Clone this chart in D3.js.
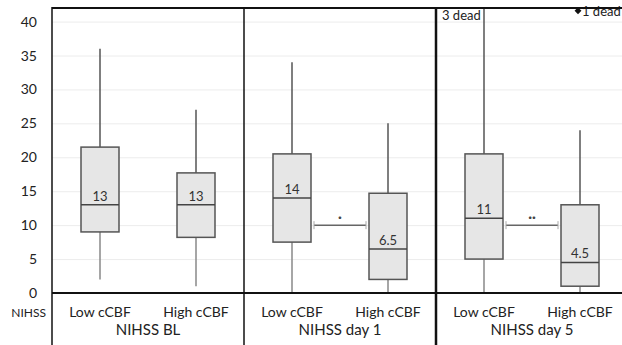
<!DOCTYPE html>
<html>
<head>
<meta charset="utf-8">
<script src="https://cdn.jsdelivr.net/npm/d3@7"></script>
<style>
  body { margin: 0; background: #fff; }
  svg { display: block; }
</style>
</head>
<body>
<div id="chart"></div>
<script>
// values
const groups = ['NIHSS BL', 'NIHSS day 1', 'NIHSS day 5'];
const categories = ['Low cCBF', 'High cCBF'];
const whiskerHigh = [36, 27, 34, 25, 43, 24];
const q3 = [21.5, 17.7, 20.5, 14.7, 20.5, 13];
const medians = [13, 13, 14, 6.5, 11, 4.5];
const q1 = [9, 8.2, 7.5, 2, 5, 1];
const whiskerLow = [2, 1, 0, 0, 0, 0];
const medianLabels = ['13', '13', '14', '6.5', '11', '4.5'];
const yTicks = [0, 5, 10, 15, 20, 25, 30, 35, 40];
const sigBars = [
  {group: 'NIHSS day 1', value: 10, label: '·'},
  {group: 'NIHSS day 5', value: 10, label: '··'}
];
const outliers = [{group: 'NIHSS day 5', cat: 'High cCBF', value: 41.6, label: '1 dead'}];
const notes = [{group: 'NIHSS day 5', cat: 'Low cCBF', label: '3 dead'}];

const width = 622, height = 345;
const plotLeft = 52, plotTop = 8, axisY = 293;

const boxes = [];
groups.forEach((g, i) => categories.forEach((c, j) => {
  const k = i * 2 + j;
  boxes.push({group: g, cat: c, hi: whiskerHigh[k], q3: q3[k], med: medians[k],
    q1: q1[k], lo: whiskerLow[k], label: medianLabels[k]});
}));

const svg = d3.select('#chart').append('svg')
  .attr('width', width).attr('height', height)
  .attr('font-family', 'Lato, "Open Sans", sans-serif')
  .attr('fill', '#222');

const x = d3.scaleBand().domain(groups).range([plotLeft, 628]);
const xi = d3.scalePoint().domain(categories).range([0, x.bandwidth()]).padding(0.5);
const y = d3.scaleLinear().domain([0, 42]).range([axisY, plotTop]);
const boxW = 38;
const cx = d => x(d.group) + xi(d.cat);

// grid
svg.append('g').selectAll('line')
  .data(yTicks.filter(t => t > 0))
  .join('line')
    .attr('x1', plotLeft).attr('x2', width)
    .attr('y1', d => y(d) + 0.5).attr('y2', d => y(d) + 0.5)
    .attr('stroke', '#ececec');

// y tick labels
svg.append('g').selectAll('text')
  .data(yTicks)
  .join('text')
    .attr('x', 37).attr('y', d => y(d))
    .attr('dy', '0.36em')
    .attr('text-anchor', 'end')
    .attr('font-size', 14)
    .text(d => d);

// whiskers
const bx = svg.append('g');
bx.selectAll('line.wu')
  .data(boxes)
  .join('line')
    .attr('class', 'wu')
    .attr('x1', cx).attr('x2', cx)
    .attr('y1', d => y(d.q3)).attr('y2', d => Math.max(plotTop, y(d.hi)))
    .attr('stroke', '#555').attr('stroke-width', 1.5);
bx.selectAll('line.wl')
  .data(boxes)
  .join('line')
    .attr('class', 'wl')
    .attr('x1', cx).attr('x2', cx)
    .attr('y1', d => y(d.q1)).attr('y2', d => y(d.lo))
    .attr('stroke', '#888').attr('stroke-width', 1.5);

// boxes
bx.selectAll('rect')
  .data(boxes)
  .join('rect')
    .attr('x', d => cx(d) - boxW / 2)
    .attr('y', d => y(d.q3))
    .attr('width', boxW)
    .attr('height', d => y(d.q1) - y(d.q3))
    .attr('fill', '#e6e6e6')
    .attr('stroke', '#555').attr('stroke-width', 1.5);
bx.selectAll('line.med')
  .data(boxes)
  .join('line')
    .attr('class', 'med')
    .attr('x1', d => cx(d) - boxW / 2).attr('x2', d => cx(d) + boxW / 2)
    .attr('y1', d => y(d.med)).attr('y2', d => y(d.med))
    .attr('stroke', '#444').attr('stroke-width', 1.5);
bx.selectAll('text')
  .data(boxes)
  .join('text')
    .attr('x', cx).attr('y', d => y(d.med) - 4)
    .attr('text-anchor', 'middle')
    .attr('font-size', 13)
    .attr('fill', '#333')
    .text(d => d.label);

// significance bars
const sg = svg.append('g').selectAll('g')
  .data(sigBars)
  .join('g');
const sx1 = d => x(d.group) + xi(categories[0]) + boxW / 2 + 3;
const sx2 = d => x(d.group) + xi(categories[1]) - boxW / 2 - 3;
sg.append('line')
  .attr('x1', sx1).attr('x2', sx2)
  .attr('y1', d => y(d.value)).attr('y2', d => y(d.value))
  .attr('stroke', '#666').attr('stroke-width', 1.5);
sg.append('line')
  .attr('x1', sx1).attr('x2', sx1)
  .attr('y1', d => y(d.value) - 4).attr('y2', d => y(d.value) + 4)
  .attr('stroke', '#aaa');
sg.append('line')
  .attr('x1', sx2).attr('x2', sx2)
  .attr('y1', d => y(d.value) - 4).attr('y2', d => y(d.value) + 4)
  .attr('stroke', '#aaa');
sg.append('text')
  .attr('x', d => (sx1(d) + sx2(d)) / 2)
  .attr('y', d => y(d.value) - 3)
  .attr('text-anchor', 'middle')
  .attr('font-size', 14).attr('font-weight', 'bold')
  .attr('fill', '#444')
  .text(d => d.label);

// outliers
svg.append('g').selectAll('path')
  .data(outliers)
  .join('path')
    .attr('transform', d => `translate(${cx(d) - 2},${y(d.value)})`)
    .attr('d', d3.symbol(d3.symbolDiamond2, 30))
    .attr('fill', '#111');
svg.append('g').selectAll('text')
  .data(outliers)
  .join('text')
    .attr('x', d => cx(d) + 2).attr('y', d => y(d.value) + 5)
    .attr('font-size', 13)
    .text(d => d.label);
svg.append('g').selectAll('text')
  .data(notes)
  .join('text')
    .attr('x', d => x(d.group) + 6).attr('y', 20)
    .attr('font-size', 13)
    .text(d => d.label);

// frame
svg.append('line')
  .attr('x1', plotLeft).attr('x2', width)
  .attr('y1', plotTop).attr('y2', plotTop)
  .attr('stroke', '#111').attr('stroke-width', 2);
svg.append('line')
  .attr('x1', plotLeft).attr('x2', width)
  .attr('y1', axisY).attr('y2', axisY)
  .attr('stroke', '#111').attr('stroke-width', 2);
svg.append('g').selectAll('line')
  .data(groups)
  .join('line')
    .attr('x1', d => x(d)).attr('x2', d => x(d))
    .attr('y1', plotTop - 1).attr('y2', height)
    .attr('stroke', '#111').attr('stroke-width', (d, i) => i === 2 ? 2.5 : 1.5);

// category labels
svg.append('g').selectAll('text')
  .data(boxes)
  .join('text')
    .attr('x', cx).attr('y', 317)
    .attr('text-anchor', 'middle')
    .attr('font-size', 14)
    .text(d => d.cat);
svg.append('g').selectAll('text')
  .data(groups)
  .join('text')
    .attr('x', d => x(d) + x.bandwidth() / 2).attr('y', 335)
    .attr('text-anchor', 'middle')
    .attr('font-size', 15)
    .text(d => d);
svg.append('text')
  .attr('x', 46).attr('y', 317)
  .attr('text-anchor', 'end')
  .attr('font-size', 12)
  .text('NIHSS');
</script>
</body>
</html>
